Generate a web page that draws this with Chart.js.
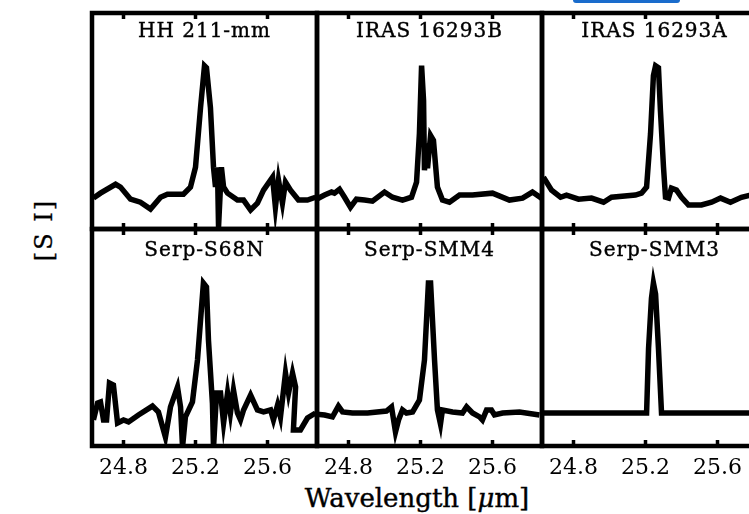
<!DOCTYPE html>
<html>
<head>
<meta charset="utf-8">
<script src="https://cdn.jsdelivr.net/npm/chart.js@4.4.1/dist/chart.umd.min.js"></script>
<style>
  body { margin: 0; background: #fff; overflow: hidden; }
  #wrap { position: relative; width: 749px; height: 514px; overflow: hidden; }
  canvas { position: absolute; }
  .ttl { position: absolute; width: 225px; text-align: center; font: 20px "DejaVu Serif", serif; line-height: 20px; letter-spacing: 1px; color: #000; -webkit-text-stroke: 0.4px #000; }
  #xlab { position: absolute; left: 217px; top: 485px; width: 400px; text-align: center; font: 26px "DejaVu Serif", serif; line-height: 26px; color: #000; -webkit-text-stroke: 0.4px #000; }
  #ylab { position: absolute; left: -15px; top: 215px; width: 120px; height: 30px; line-height: 30px; text-align: center; font: 24px "DejaVu Serif", serif; letter-spacing: 2px; transform: rotate(-90deg); color: #000; -webkit-text-stroke: 0.3px #000; }
  #blue { position: absolute; left: 573px; top: 0; width: 107px; height: 3px; background: #1a6ccc; border-radius: 0 0 4px 4px; }
</style>
</head>
<body>
<div id="wrap">
  <div id="blue"></div>
  <div id="ylab">[S I]</div>
  <div id="xlab">Wavelength [<i>μ</i>m]</div>
</div>
<script>
// panel titles and tick labels
const titles = ["HH 211-mm", "IRAS 16293B", "IRAS 16293A", "Serp-S68N", "Serp-SMM4", "Serp-SMM3"];
const xTicks = [24.8, 25.2, 25.6];
const xMin = 24.625, xMax = 25.875;

// HH 211-mm
const wave1 = [24.633, 24.672, 24.756, 24.783, 24.839, 24.894, 24.950, 25.006, 25.044, 25.133, 25.172, 25.200, 25.228, 25.250, 25.261, 25.283, 25.300, 25.311, 25.322, 25.328, 25.344, 25.356, 25.378, 25.433, 25.467, 25.506, 25.544, 25.578, 25.628, 25.644, 25.661, 25.683, 25.700, 25.728, 25.772, 25.822, 25.867];
const flux1 = [14.3, 16.6, 20.7, 19.4, 13.8, 12.4, 9.2, 14.7, 16.1, 16.1, 19.4, 28.6, 56.2, 75.6, 74.7, 56.2, 28.6, 19.4, 28.6, 0.9, 28.6, 19.4, 16.6, 13.4, 13.4, 8.8, 12.0, 18.0, 24.0, 10.1, 22.6, 12.0, 21.7, 18.0, 13.4, 13.4, 14.7];

// IRAS 16293B
const wave2 = [24.622, 24.667, 24.706, 24.722, 24.750, 24.778, 24.811, 24.844, 24.889, 24.933, 25.000, 25.044, 25.100, 25.150, 25.178, 25.194, 25.206, 25.217, 25.222, 25.233, 25.239, 25.256, 25.272, 25.294, 25.322, 25.361, 25.417, 25.489, 25.600, 25.694, 25.767, 25.822, 25.872];
const flux2 = [13.8, 15.7, 17.1, 16.6, 18.4, 14.7, 10.1, 13.8, 13.4, 12.9, 17.1, 14.7, 13.4, 14.7, 21.7, 44.2, 75.6, 59.4, 27.2, 39.6, 28.1, 43.3, 41.0, 19.4, 13.4, 12.4, 15.7, 15.7, 16.6, 13.4, 14.3, 17.1, 14.3];

// IRAS 16293A
const wave3 = [24.633, 24.678, 24.728, 24.761, 24.828, 24.900, 24.967, 25.011, 25.144, 25.178, 25.206, 25.228, 25.244, 25.256, 25.272, 25.283, 25.300, 25.311, 25.328, 25.344, 25.372, 25.400, 25.439, 25.511, 25.567, 25.617, 25.672, 25.733, 25.783];
const flux3 = [24.0, 18.0, 14.7, 15.7, 13.8, 14.3, 12.4, 14.7, 15.7, 16.6, 19.4, 44.2, 71.0, 75.6, 74.7, 54.8, 28.6, 14.7, 14.3, 18.9, 18.0, 14.7, 11.1, 11.1, 12.4, 14.3, 12.4, 14.7, 15.7];

// Serp-S68N
const wave4 = [24.633, 24.656, 24.672, 24.689, 24.706, 24.722, 24.744, 24.767, 24.800, 24.828, 24.883, 24.961, 24.994, 25.033, 25.061, 25.100, 25.117, 25.128, 25.144, 25.183, 25.211, 25.244, 25.261, 25.272, 25.294, 25.300, 25.317, 25.339, 25.356, 25.378, 25.394, 25.411, 25.433, 25.450, 25.467, 25.506, 25.544, 25.578, 25.617, 25.633, 25.656, 25.672, 25.700, 25.717, 25.739, 25.756, 25.744, 25.783, 25.822, 25.867];
const flux4 = [12.0, 19.8, 20.3, 12.0, 12.0, 29.0, 28.1, 10.6, 12.0, 11.1, 14.3, 18.4, 15.7, 4.1, 18.0, 27.2, 18.0, -0.5, 13.4, 20.3, 39.6, 75.1, 73.3, 48.8, 19.8, -0.9, 24.4, 24.4, 10.6, 24.4, 15.2, 25.8, 15.2, 12.0, 16.6, 23.5, 16.6, 15.7, 16.6, 12.0, 18.9, 13.4, 33.6, 24.4, 33.6, 27.2, 7.4, 7.4, 12.9, 15.2];

// Serp-SMM4
const wave5 = [24.622, 24.667, 24.711, 24.744, 24.767, 24.822, 24.906, 25.011, 25.039, 25.061, 25.078, 25.100, 25.122, 25.156, 25.194, 25.222, 25.244, 25.256, 25.278, 25.294, 25.311, 25.322, 25.378, 25.433, 25.456, 25.489, 25.528, 25.544, 25.567, 25.594, 25.611, 25.656, 25.750, 25.861];
const flux5 = [14.7, 14.3, 13.4, 18.4, 15.7, 15.2, 15.2, 16.1, 18.0, 6.5, 12.0, 16.6, 15.2, 15.7, 21.2, 39.6, 75.1, 75.1, 39.6, 16.6, 10.1, 16.6, 15.7, 15.2, 18.0, 15.2, 13.4, 12.0, 16.6, 16.6, 14.3, 15.2, 15.7, 14.3];

// Serp-SMM3
const wave6 = [24.625, 25.206, 25.217, 25.233, 25.244, 25.256, 25.272, 25.289, 25.875];
const flux6 = [15.2, 15.2, 45.0, 68.0, 75.1, 70.0, 45.0, 15.2, 15.2];

const waves = [wave1, wave2, wave3, wave4, wave5, wave6];
const fluxes = [flux1, flux2, flux3, flux4, flux5, flux6];

const colLeft = [92, 317, 542];
const rowTop = [13, 229];
const rowH = [216, 217];
const panelW = 225;
const pad = 4;
const tickRoom = 45;

// box + inward tick marks on each panel
const panelFrame = {
  id: 'panelFrame',
  afterDatasetsDraw(chart) {
    const { ctx, chartArea: a, scales: { x } } = chart;
    ctx.save();
    ctx.strokeStyle = '#000';
    ctx.lineWidth = 4.5;
    ctx.strokeRect(a.left, a.top, a.right - a.left, a.bottom - a.top);
    ctx.lineWidth = 3.5;
    xTicks.forEach(v => {
      const px = x.getPixelForValue(v);
      ctx.beginPath();
      ctx.moveTo(px, a.top); ctx.lineTo(px, a.top + 6);
      ctx.moveTo(px, a.bottom); ctx.lineTo(px, a.bottom - 6);
      ctx.stroke();
    });
    ctx.restore();
  }
};

const wrap = document.getElementById("wrap");

function makePanel(i) {
  const row = Math.floor(i / 3), col = i % 3;
  const bottomRow = row === 1;
  const cv = document.createElement("canvas");
  const w = panelW + 2 * pad;
  const h = rowH[row] + 2 * pad + (bottomRow ? tickRoom : 0);
  cv.width = w; cv.height = h;
  cv.style.left = (colLeft[col] - pad) + "px";
  cv.style.top = (rowTop[row] - pad) + "px";
  cv.style.width = w + "px"; cv.style.height = h + "px";
  wrap.appendChild(cv);

  const t = document.createElement("div");
  t.className = "ttl";
  t.textContent = titles[i];
  t.style.left = colLeft[col] + "px";
  t.style.top = (row === 0 ? 20 : 239) + "px";
  wrap.appendChild(t);

  const xScale = {
    type: 'linear',
    min: xMin, max: xMax,
    display: bottomRow,
    grid: { display: false, drawTicks: false },
    border: { display: false },
    afterBuildTicks: axis => { axis.ticks = xTicks.map(v => ({ value: v })); },
    ticks: {
      autoSkip: false, maxRotation: 0, padding: 9, color: '#000',
      font: { family: 'DejaVu Serif', size: 22 },
      callback: v => v.toFixed(1)
    }
  };
  if (bottomRow) xScale.afterFit = axis => { axis.height = tickRoom; };

  new Chart(cv, {
    type: 'line',
    data: {
      datasets: [{
        data: waves[i].map((w, k) => ({ x: w, y: fluxes[i][k] })),
        borderColor: '#000',
        borderWidth: 5.5,
        pointRadius: 0,
        tension: 0,
        fill: false,
        clip: 0
      }]
    },
    options: {
      responsive: false,
      animation: false,
      events: [],
      layout: { padding: pad },
      plugins: { legend: { display: false }, tooltip: { enabled: false } },
      scales: {
        x: xScale,
        y: { min: 0, max: 100, display: false }
      }
    },
    plugins: [panelFrame]
  });
}

for (let i = 0; i < 6; i++) makePanel(i);
</script>
</body>
</html>
